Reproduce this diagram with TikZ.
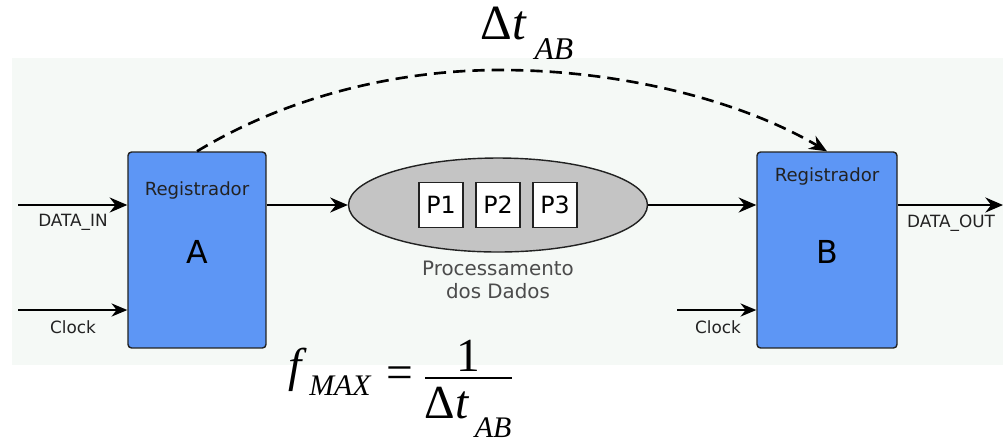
\documentclass[tikz,border=0pt]{standalone}
\usepackage{fontspec}
\setmainfont{DejaVu Sans}
\newfontfamily\eqfont{Liberation Serif}
\usetikzlibrary{
  arrows.meta,
  calc,
  positioning,
  shapes.geometric
}
\definecolor{bgcol}{HTML}{F5F9F6}
\definecolor{regblue}{HTML}{5D96F5}
\definecolor{procgray}{HTML}{C4C4C4}
\definecolor{linecol}{HTML}{222222}
\tikzset{
  >=Stealth,
  line cap=round,
  line join=round,
  register/.style={draw=linecol, line width=0.8pt, fill=regblue, rounded corners=2pt,
    minimum width=2.76cm, minimum height=3.92cm, inner sep=0pt},
  procbox/.style={draw=linecol, line width=0.7pt, fill=white, minimum width=0.88cm,
    minimum height=0.9cm, inner sep=0pt, font=\fontsize{13.5}{15}\selectfont},
  dataarrow/.style={-{Stealth[length=10pt,width=8.5pt]}, line width=1.6pt},
  clockarrow/.style={-{Stealth[length=9pt,width=7.5pt]}, line width=1pt},
  dashedarrow/.style={-{Stealth[length=10pt,width=8.5pt]}, line width=1.5pt, dash pattern=on 7pt off 4pt},
  smalllabel/.style={font=\fontsize{9.6}{11}\selectfont, text=linecol},
  reglabel/.style={font=\fontsize{10.3}{12}\selectfont, text=linecol},
  bigletter/.style={font=\fontsize{18}{20}\selectfont}
}

\begin{document}
\begin{tikzpicture}[x=0.02cm, y=-0.02cm]
	\useasboundingbox (0,0) rectangle (1003,441);
	% light background panel
	\fill[bgcol] (12,58) rectangle (1003,365);

	% the two registers
	\node[register] (regA) at (197,250) {};
	\node[register, minimum width=2.8cm] (regB) at (827,250) {};
	\node[reglabel] (regAname) at (197,190) {Registrador};
	\node[reglabel] (regBname) at (827,176) {Registrador};
	\node[bigletter] (regAletter) at (197,252) {A};
	\node[bigletter] (regBletter) at (827,252) {B};

	% data processing block
	\node[draw=linecol, line width=0.8pt, fill=procgray, ellipse, minimum width=5.98cm,
	  minimum height=1.88cm, inner sep=0pt] (proc) at (498,205) {};
	\node[procbox] (p1) at (441,205) {P1};
	\node[procbox] (p2) at (498,205) {P2};
	\node[procbox] (p3) at (555,205) {P3};
	\node[font=\fontsize{11.3}{13.5}\selectfont, text=black!70, align=center] (proclabel)
	  at (498,280) {Processamento\\dos Dados};

	% free ends of the signal lines
	\coordinate (inA) at (18,205);
	\coordinate (clkA) at (18,310);
	\coordinate (clkB) at (677,310);
	\coordinate (outB) at (1003,205);

	% signal lines
	\draw[dataarrow] (inA) -- (inA -| regA.west);
	\draw[clockarrow] (clkA) -- (clkA -| regA.west);
	\draw[dataarrow] (regA.east |- proc.west) -- (proc.west);
	\draw[dataarrow] (proc.east) -- (proc.east -| regB.west);
	\draw[clockarrow] (clkB) -- (clkB -| regB.west);
	\draw[dataarrow] (regB.east |- outB) -- (outB);

	\node[smalllabel] (dinlabel) at (73,222) {DATA\_IN};
	\node[smalllabel] (clkAlabel) at (73,327) {Clock};
	\node[smalllabel] (clkBlabel) at (718,327) {Clock};
	\node[smalllabel] (doutlabel) at (951,223) {DATA\_OUT};

	% delay between the registers
	\draw[dashedarrow] (regA.north) .. controls (290,95) and (400,70) .. (500,70)
	  .. controls (620,70) and (740,100) .. (regB.north);
	\node[font=\eqfont\fontsize{28}{30}\selectfont] (delay) at (527,33)
	  {Δ\textit{t}\hspace{0.15em}\raisebox{-0.4em}{\fontsize{18}{20}\selectfont\textit{AB}}};

	% maximum frequency
	\node[font=\eqfont\fontsize{27}{30}\selectfont] (fmax) at (330,372)
	  {\textit{f}\hspace{0.05em}\raisebox{-0.3em}{\fontsize{17}{20}\selectfont\textit{MAX}}};
	\node[font=\eqfont\fontsize{27}{30}\selectfont] (eqsign) at (400,378) {=};
	\node[font=\eqfont\fontsize{27}{30}\selectfont] (numer) at (468,356) {1};
	\draw[line width=1.2pt] (425,378) -- (512,378);
	\node[font=\eqfont\fontsize{27}{30}\selectfont] (denom) at (468,412)
	  {Δ\textit{t}\hspace{0.12em}\raisebox{-0.4em}{\fontsize{17}{20}\selectfont\textit{AB}}};
\end{tikzpicture}
\end{document}
